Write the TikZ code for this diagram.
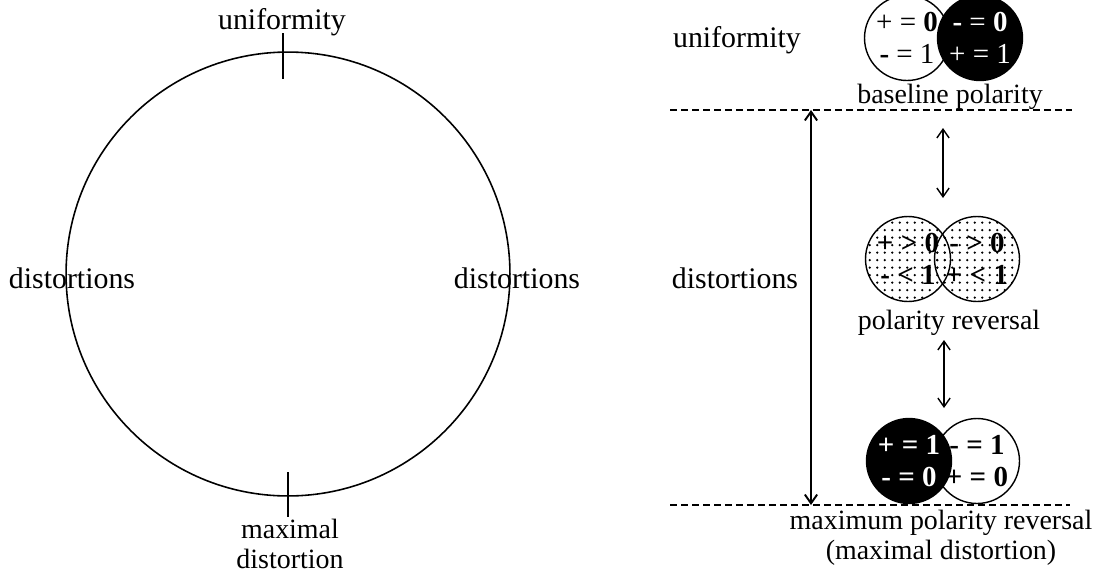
\documentclass[tikz,border=0pt]{standalone}
\usepackage{fontspec}
\setmainfont{Liberation Serif}
\usetikzlibrary{arrows.meta, patterns.meta, positioning}

\begin{document}
\begin{tikzpicture}[x=0.02cm, y=-0.02cm,
    lbl/.style={font=\fontsize{17}{17.5}\selectfont, align=center, inner sep=0pt},
    sublbl/.style={lbl, font=\fontsize{15.9}{17}\selectfont},
    pole/.style={circle, draw, line width=0.8pt, minimum size=1.7cm, inner sep=0pt, align=center, font=\fontsize{16.5}{18.2}\selectfont},
    poledark/.style={pole, fill=black, text=white},
    poledot/.style={pole, pattern={Dots[radius=0.7pt, distance=0.15cm]}},
    link/.style={line width=0.8pt, {Straight Barb[length=5pt,width=7pt]}-{Straight Barb[length=5pt,width=7pt]}},
    border/.style={line width=0.9pt, dash pattern=on 0.14cm off 0.08cm},
    tick/.style={line width=1.2pt}
]
    \useasboundingbox (0,0) rectangle (1095,575);

    % circle of states
    \node[circle, draw, line width=0.9pt, minimum size=8.88cm, inner sep=0pt] (ring) at (288,274) {};
    \node[lbl] (uni) at (282,22) {uniformity};
    \node[lbl] (distl) at (72,278) {distortions};
    \node[lbl] (distr) at (517,278) {distortions};
    \node[sublbl] (maxd) at (290,544) {maximal\\distortion};
    \draw[tick] (283,33) -- (283,79);
    \draw[tick] (288,472) -- (288,517);

    % polarity scale
    \node[lbl] (uni2) at (737,40) {uniformity};
    \node[lbl] (dist2) at (735,278) {distortions};

    \node[pole] (baseA) at (907,38) {+ = \textbf{0}\\\textbf{-} = 1};
    \node[poledark] (baseB) at (980,38) {\textbf{-} = \textbf{0}\\+ = 1};
    \node[sublbl] (baselbl) at (950,97) {baseline polarity};

    \node[poledot] (revA) at (908,259) {\textbf{+ > 0}\\\textbf{- < 1}};
    \node[poledot] (revB) at (977,259) {\textbf{- > 0}\\\textbf{+ < 1}};
    \node[sublbl] (revlbl) at (949,323) {polarity reversal};

    \node[pole] (maxB) at (977,461) {\textbf{- = 1}\\\textbf{+ = 0}};
    \node[poledark] (maxA) at (909,461) {\textbf{+ = 1}\\\textbf{- = 0}};
    \node[sublbl] (maxlbl) at (941,538) {maximum polarity reversal\\(maximal distortion)};

    \coordinate (topL) at (670,110);
    \coordinate (topR) at (1072,110);
    \coordinate (botL) at (670,505);
    \coordinate (botR) at (1070,505);
    \draw[border] (topL) -- (topR);
    \draw[border] (botL) -- (botR);

    \coordinate (spanT) at (811,110);
    \coordinate (spanB) at (811,505);
    \draw[link, line width=1.1pt] (spanT) -- (spanB);

    \coordinate (stepA) at (943,128);
    \coordinate (stepB) at (943,198);
    \coordinate (stepC) at (944,340);
    \coordinate (stepD) at (944,408);
    \draw[link] (stepA) -- (stepB);
    \draw[link] (stepC) -- (stepD);
\end{tikzpicture}
\end{document}
